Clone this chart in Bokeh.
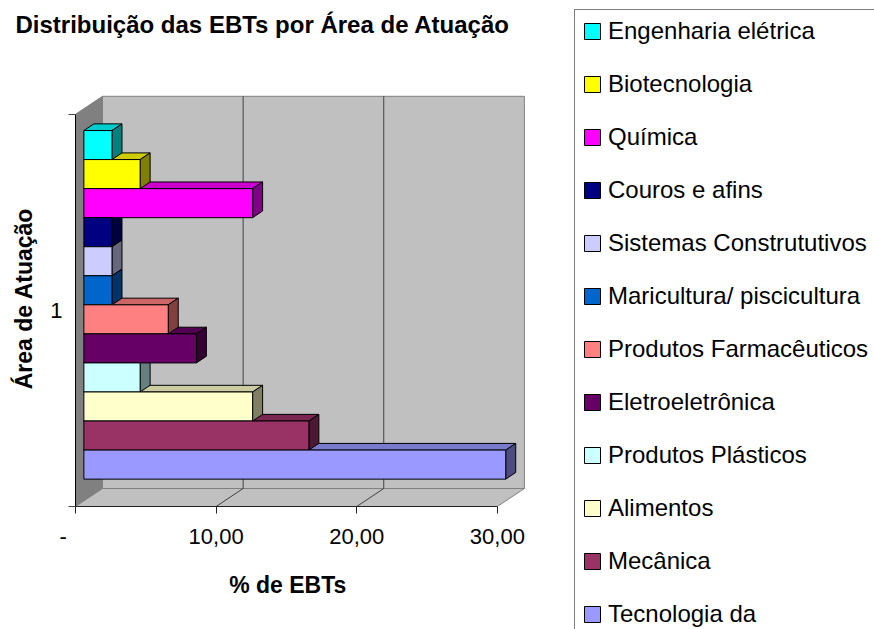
import numpy as np
from bokeh.plotting import figure
from bokeh.layouts import row
from bokeh.models import Range1d, FixedTicker, Legend, LegendItem, ColumnDataSource, Title
from bokeh.embed import file_html
from bokeh.resources import INLINE

# ---- data (top bar first, same order as the legend) ----
categories = ["Engenharia elétrica", "Biotecnologia", "Química", "Couros e afins",
              "Sistemas Constrututivos", "Maricultura/ piscicultura",
              "Produtos Farmacêuticos", "Eletroeletrônica", "Produtos Plásticos",
              "Alimentos", "Mecânica", "Tecnologia da"]
values = [2, 4, 12, 2, 2, 2, 6, 8, 4, 12, 16, 30]
colors = ["#00FFFF", "#FFFF00", "#FF00FF", "#000080", "#CCCCFF", "#0066CC",
          "#FF8080", "#660066", "#CCFFFF", "#FFFFCC", "#993366", "#9999FF"]
x_ticks = [0, 10, 20, 30]
x_tick_labels = ["-\u00a0\u00a0\u00a0\u00a0", "10,00", "20,00", "30,00"]
y_tick_label = "1"

title_text = "Distribuição das EBTs por Área de Atuação"
x_title = "% de EBTs\u00a0\u00a0\u00a0\u00a0"
y_title = "Área de Atuação"

FONT = "Liberation Sans"
X_MAX = 30            # value axis extent
AXIS_H = 13.5         # height of the category axis (front plane)
DX, DY = 1.92, 0.62   # depth of the walls (data units)
F1, F2 = 0.31, 0.68   # depth fractions of the bar front/back planes


def shade(hexcol, f):
    h = hexcol.lstrip("#")
    r, g, b = (int(h[i:i + 2], 16) for i in (0, 2, 4))
    return "#%02x%02x%02x" % (int(r * f), int(g * f), int(b * f))


p = figure(width=565, height=627, x_range=Range1d(0, 32), y_range=Range1d(0, 14.32),
           output_backend="svg", toolbar_location=None,
           min_border_left=75, min_border_right=40, min_border_top=90, min_border_bottom=121)
p.outline_line_color = None
p.grid.visible = False
p.background_fill_color = "white"
p.border_fill_color = "white"

# ---- 3D walls ----
p.patch([0, DX, DX, 0], [0, DY, AXIS_H + DY, AXIS_H], fill_color="#808080", line_color="#808080")
p.quad(left=[DX], right=[X_MAX + DX], bottom=[DY], top=[AXIS_H + DY],
       fill_color="#C0C0C0", line_color="#808080")
p.patch([0, X_MAX, X_MAX + DX, DX], [0, 0, DY, DY], fill_color="#C0C0C0", line_color="#808080")

grid_x = [t for t in x_ticks if 0 < t < X_MAX]
p.segment(x0=[t + DX for t in grid_x], y0=[DY] * len(grid_x),
          x1=[t + DX for t in grid_x], y1=[AXIS_H + DY] * len(grid_x),
          line_color="#404040", line_width=1)
p.segment(x0=grid_x, y0=[0] * len(grid_x), x1=[t + DX for t in grid_x], y1=[DY] * len(grid_x),
          line_color="#404040", line_width=1)

# ---- 3D bars ----
n = len(values)
gap = (AXIS_H - n) / 2
x0 = F1 * DX
bdx = (F2 - F1) * DX
bdy = (F2 - F1) * DY
v = np.array(values, dtype=float)
bottoms = np.array([F1 * DY + gap + (n - 1 - i) for i in range(n)])
tops = bottoms + 1

top_xs = [[x0, x0 + vi, x0 + vi + bdx, x0 + bdx] for vi in v]
top_ys = [[t, t, t + bdy, t + bdy] for t in tops]
side_xs = [[x0 + vi, x0 + vi + bdx, x0 + vi + bdx, x0 + vi] for vi in v]
side_ys = [[b, b + bdy, t + bdy, t] for b, t in zip(bottoms, tops)]

p.patches(xs=top_xs, ys=top_ys, fill_color=[shade(c, 0.8) for c in colors],
          line_color="black", line_width=1)
p.patches(xs=side_xs, ys=side_ys, fill_color=[shade(c, 0.5) for c in colors],
          line_color="black", line_width=1)

src = ColumnDataSource(dict(left=[x0] * n, right=list(x0 + v), bottom=list(bottoms),
                            top=list(tops), color=colors, cat=categories, val=values))
front = p.quad(left="left", right="right", bottom="bottom", top="top", source=src,
               fill_color="color", line_color="black", line_width=1)

# ---- axes ----
xa = p.xaxis[0]
xa.bounds = (0, X_MAX)
xa.ticker = FixedTicker(ticks=x_ticks, minor_ticks=[])
xa.major_label_overrides = {t: lab for t, lab in zip(x_ticks, x_tick_labels)}
xa.major_tick_out = 7
xa.major_tick_in = 0
xa.axis_line_color = "#222222"
xa.major_tick_line_color = "#222222"
xa.major_label_standoff = 10
xa.major_label_text_font = FONT
xa.major_label_text_font_size = "22px"
xa.major_label_text_color = "black"
xa.axis_label = x_title
xa.axis_label_text_font = FONT
xa.axis_label_text_font_size = "23px"
xa.axis_label_text_font_style = "bold"
xa.axis_label_text_color = "black"
xa.axis_label_standoff = 20

ya = p.yaxis[0]
ya.bounds = (0, AXIS_H)
ya.ticker = FixedTicker(ticks=[AXIS_H / 2], minor_ticks=[0, AXIS_H])
ya.major_label_overrides = {AXIS_H / 2: y_tick_label}
ya.major_tick_line_color = None
ya.major_tick_out = 0
ya.major_tick_in = 0
ya.minor_tick_out = 7
ya.minor_tick_in = 0
ya.minor_tick_line_color = "#444444"
ya.axis_line_color = "black"
ya.major_label_standoff = 6
ya.major_label_orientation = "horizontal"
ya.major_label_text_font = FONT
ya.major_label_text_font_size = "22px"
ya.major_label_text_color = "black"
ya.axis_label = y_title
ya.axis_label_text_font = FONT
ya.axis_label_text_font_size = "23px"
ya.axis_label_text_font_style = "bold"
ya.axis_label_text_color = "black"
ya.axis_label_standoff = 10

# ---- title (outer) with a blank spacer title between it and the frame ----
p.title.text = title_text
p.title.text_font = FONT
p.title.text_font_size = "24px"
p.title.text_font_style = "bold"
p.title.text_color = "black"
p.title.align = "left"
p.title.offset = -60
p.title.vertical_align = "top"
p.title.standoff = 16
p.add_layout(Title(text=" ", text_font=FONT, text_font_size="24px", standoff=14), "above")

# ---- legend panel (separate figure to the right) ----
lg = figure(width=307, height=627, x_range=Range1d(0, 1), y_range=Range1d(0, 1),
            output_backend="svg", toolbar_location=None,
            x_axis_type=None, y_axis_type=None,
            min_border_left=0, min_border_right=0, min_border_top=0, min_border_bottom=0)
lg.outline_line_color = None
lg.grid.visible = False
lg.background_fill_color = "white"
lg.border_fill_color = "white"
key = lg.quad(left="left", right="right", bottom="bottom", top="top", source=src,
              fill_color="color", line_color="black", line_width=1, visible=False)

items = [LegendItem(label=c, renderers=[key], index=i) for i, c in enumerate(categories)]
legend = Legend(items=items, location=(9, -130),
                label_text_font=FONT, label_text_font_size="24px", label_text_color="black",
                glyph_width=20, glyph_height=20, label_height=28, spacing=25,
                padding=7, label_standoff=6,
                border_line_color="black", border_line_width=1,
                background_fill_color="white", background_fill_alpha=1)
lg.add_layout(legend, "left")

layout = row(p, lg)
open("out.html", "w").write(file_html(layout, INLINE))
